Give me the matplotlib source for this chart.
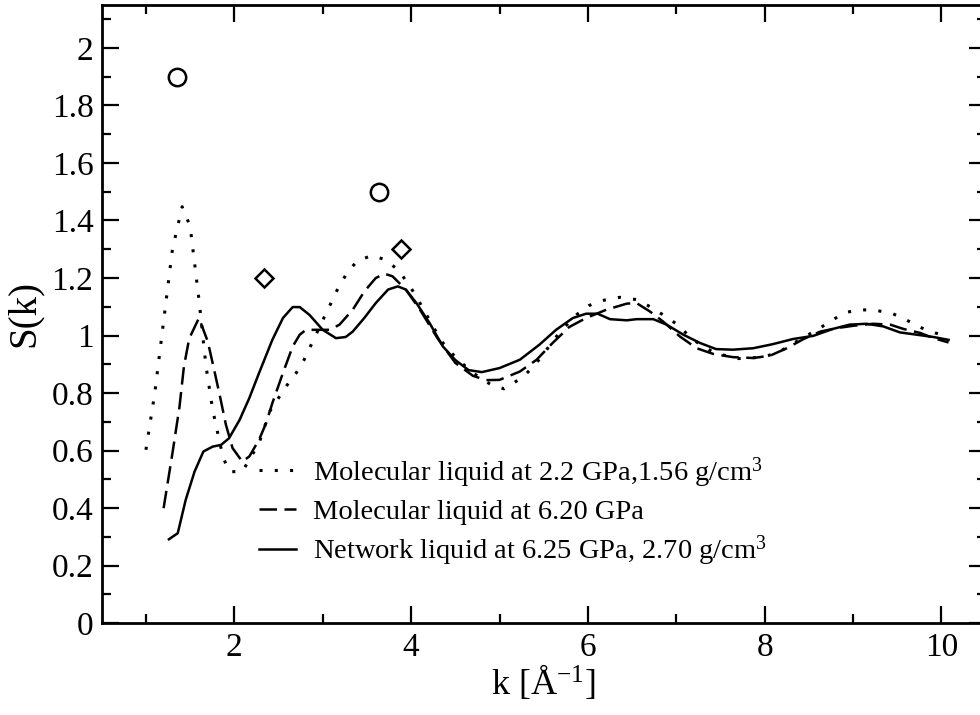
import matplotlib
matplotlib.use("Agg")
import matplotlib.pyplot as plt
from matplotlib.ticker import MultipleLocator, FuncFormatter

plt.rcParams['font.family'] = ['Liberation Serif', 'DejaVu Serif']
plt.rcParams['mathtext.fontset'] = 'custom'
plt.rcParams['mathtext.rm'] = 'Liberation Serif'
plt.rcParams['mathtext.it'] = 'Liberation Serif:italic'

# Molecular liquid at 2.2 GPa (dotted)
k_mol22 = [1.00, 1.10, 1.20, 1.30, 1.41, 1.50, 1.60, 1.68, 1.755, 1.87, 1.94, 2.09,
           2.28, 2.40, 2.585, 2.70, 2.79, 2.87, 3.02, 3.10, 3.18, 3.27, 3.385, 3.55,
           3.71, 3.86, 3.96, 4.06, 4.15, 4.24, 4.33, 4.50, 4.70, 4.90, 5.05, 5.13,
           5.28, 5.41, 5.51, 5.62, 5.74, 5.87, 6.01, 6.15, 6.36, 6.55, 6.70, 6.85,
           7.00, 7.13, 7.27, 7.44, 7.70, 7.98, 8.15, 8.30, 8.46, 8.61, 8.76, 8.91,
           9.08, 9.27, 9.45, 9.61, 9.78, 9.93, 10.08]
s_mol22 = [0.603, 0.80, 1.05, 1.30, 1.448, 1.38, 1.125, 0.893, 0.742, 0.58, 0.527, 0.527,
           0.626, 0.736, 0.823, 0.870, 0.916, 0.968, 1.066, 1.117, 1.169, 1.215, 1.258, 1.278,
           1.264, 1.226, 1.183, 1.136, 1.084, 1.038, 0.985, 0.925, 0.870, 0.830, 0.815, 0.829,
           0.860, 0.902, 0.941, 0.988, 1.030, 1.072, 1.104, 1.121, 1.133, 1.125, 1.101, 1.072,
           1.041, 1.003, 0.968, 0.939, 0.920, 0.925, 0.941, 0.968, 0.997, 1.023, 1.053, 1.080,
           1.090, 1.087, 1.076, 1.053, 1.026, 1.009, 0.997]

# Molecular liquid at 6.20 GPa (dashed)
k_mol62 = [1.20, 1.30, 1.38, 1.43, 1.49, 1.60, 1.70, 1.755, 1.83, 1.905, 1.98, 2.09,
           2.17, 2.28, 2.36, 2.43, 2.55, 2.66, 2.74, 2.81, 3.08, 3.19, 3.34, 3.47,
           3.60, 3.70, 3.79, 3.94, 4.10, 4.30, 4.50, 4.70, 4.85, 5.00, 5.23, 5.42,
           5.60, 5.79, 5.98, 6.21, 6.44, 6.55, 6.70, 6.85, 7.04, 7.23, 7.42, 7.64,
           7.87, 8.06, 8.25, 8.44, 8.63, 8.82, 9.00, 9.23, 9.42, 9.57, 9.76, 9.91, 10.08]
s_mol62 = [0.400, 0.591, 0.753, 0.893, 0.990, 1.061, 0.979, 0.904, 0.800, 0.690, 0.609, 0.562,
           0.580, 0.638, 0.696, 0.765, 0.870, 0.962, 1.003, 1.020, 1.020, 1.038, 1.090, 1.153,
           1.200, 1.215, 1.206, 1.160, 1.090, 0.990, 0.905, 0.860, 0.845, 0.846, 0.875, 0.916,
           0.974, 1.030, 1.061, 1.090, 1.111, 1.113, 1.084, 1.049, 0.997, 0.956, 0.936, 0.925,
           0.922, 0.930, 0.956, 0.988, 1.014, 1.026, 1.034, 1.041, 1.038, 1.023, 1.009, 0.991, 0.976]

# Network liquid at 6.25 GPa (solid)
k_net = [1.26, 1.36, 1.45, 1.55, 1.65, 1.755, 1.85, 1.94, 2.06, 2.17, 2.28, 2.43,
         2.55, 2.66, 2.74, 2.85, 3.00, 3.15, 3.26, 3.34, 3.47, 3.60, 3.74, 3.85,
         3.94, 4.06, 4.21, 4.36, 4.50, 4.65, 4.80, 5.00, 5.23, 5.45, 5.64, 5.83,
         5.98, 6.11, 6.25, 6.44, 6.55, 6.74, 6.89, 7.08, 7.27, 7.45, 7.64, 7.87,
         8.09, 8.32, 8.55, 8.77, 8.96, 9.15, 9.34, 9.53, 9.72, 9.91, 10.08]
s_net = [0.292, 0.313, 0.429, 0.527, 0.597, 0.614, 0.620, 0.643, 0.707, 0.783, 0.870, 0.985,
         1.061, 1.099, 1.099, 1.072, 1.020, 0.991, 0.995, 1.014, 1.061, 1.113, 1.160, 1.171,
         1.160, 1.113, 1.043, 0.962, 0.915, 0.880, 0.873, 0.887, 0.916, 0.968, 1.020, 1.061,
         1.076, 1.076, 1.057, 1.053, 1.057, 1.057, 1.038, 1.003, 0.974, 0.953, 0.951, 0.956,
         0.970, 0.988, 0.999, 1.023, 1.038, 1.041, 1.032, 1.011, 1.003, 0.995, 0.985]

# experimental points
k_circ = [1.35, 3.64]
s_circ = [1.90, 1.50]
k_diam = [2.34, 3.89]
s_diam = [1.20, 1.30]

labels = ["Molecular liquid at 2.2 GPa,1.56 g/cm$^{3}$",
          "Molecular liquid at 6.20 GPa",
          "Network liquid at 6.25 GPa, 2.70 g/cm$^{3}$"]

fig = plt.figure(figsize=(9.8, 7.15), dpi=100)
ax = fig.add_axes([0.1038, 0.1283, 0.902, 0.8651])

ax.plot(k_mol22, s_mol22, color='black', lw=2.2, linestyle=(0, (1, 4)), label=labels[0])
ax.plot(k_mol62, s_mol62, color='black', lw=1.8, linestyle=(0, (7, 3)), label=labels[1])
ax.plot(k_net, s_net, color='black', lw=1.8, linestyle='-', label=labels[2])

ax.plot(k_circ, s_circ, 'o', ms=12.5, mfc='none', mec='black', mew=1.8)
ax.plot(k_diam, s_diam, 'D', ms=9.5, mfc='none', mec='black', mew=1.8)

ax.set_xlim(0.5, 10.5)
ax.set_ylim(0, 2.15)

ax.xaxis.set_major_locator(MultipleLocator(2))
ax.xaxis.set_minor_locator(MultipleLocator(1))
ax.yaxis.set_major_locator(MultipleLocator(0.2))
ax.yaxis.set_minor_locator(MultipleLocator(0.1))
ax.yaxis.set_major_formatter(FuncFormatter(lambda v, p: '%g' % round(v, 2)))

ax.tick_params(which='both', direction='in', top=True, right=True,
               labelsize=24, width=1.6)
ax.tick_params(which='major', length=12)
ax.tick_params(which='minor', length=6.5)
ax.tick_params(axis='x', pad=7)
ax.tick_params(axis='y', pad=6)
for sp in ax.spines.values():
    sp.set_linewidth(2.0)

ax.set_xlabel("k [Å$^{-1}$]", fontsize=26, labelpad=0)
ax.set_ylabel("S(k)", fontsize=28, labelpad=6)

ax.legend(loc='upper left', bbox_to_anchor=(0.165, 0.29), frameon=False,
          fontsize=20.5, handlelength=1.3, handletextpad=0.6, labelspacing=0.32,
          borderaxespad=0)

fig.savefig("out.png", dpi=100)
